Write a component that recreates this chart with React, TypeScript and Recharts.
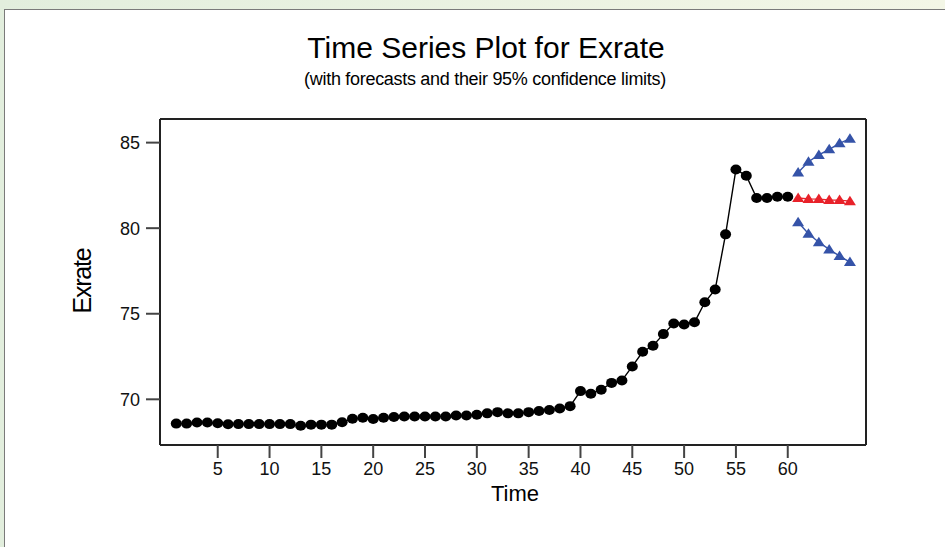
import { Line, LineChart, ReferenceLine, XAxis, YAxis } from "recharts";

// observed series, t = 1..60
const timeObs = [
  1, 2, 3, 4, 5, 6, 7, 8, 9, 10, 11, 12, 13, 14, 15, 16, 17, 18, 19, 20,
  21, 22, 23, 24, 25, 26, 27, 28, 29, 30, 31, 32, 33, 34, 35, 36, 37, 38, 39, 40,
  41, 42, 43, 44, 45, 46, 47, 48, 49, 50, 51, 52, 53, 54, 55, 56, 57, 58, 59, 60,
];
const exrate = [
  68.58, 68.58, 68.65, 68.65, 68.6, 68.54, 68.55, 68.55, 68.55, 68.55,
  68.55, 68.55, 68.45, 68.52, 68.52, 68.52, 68.66, 68.86, 68.92, 68.85,
  68.92, 68.97, 69.0, 69.0, 69.0, 69.0, 69.0, 69.05, 69.05, 69.1,
  69.18, 69.25, 69.18, 69.18, 69.25, 69.32, 69.38, 69.46, 69.6, 70.48,
  70.33, 70.56, 70.96, 71.1, 71.92, 72.78, 73.13, 73.81, 74.43, 74.37,
  74.5, 75.67, 76.42, 79.64, 83.43, 83.06, 81.76, 81.76, 81.84, 81.84,
];

// forecasts, t = 61..66
const timeFc = [61, 62, 63, 64, 65, 66];
const forecast = [81.76, 81.71, 81.7, 81.65, 81.64, 81.58];
const upper = [83.25, 83.88, 84.28, 84.61, 84.96, 85.23];
const lower = [80.35, 79.67, 79.18, 78.76, 78.37, 78.02];

const xTicks = [5, 10, 15, 20, 25, 30, 35, 40, 45, 50, 55, 60];
const yTicks = [70, 75, 80, 85];

const X_MIN = -0.57;
const X_MAX = 67.55;
const Y_MIN = 67.33;
const Y_MAX = 86.38;

type Row = {
  t: number;
  exrate?: number;
  forecast?: number;
  upper?: number;
  lower?: number;
};

const rows: Row[] = [
  ...timeObs.map((t, i) => ({ t, exrate: exrate[i] })),
  ...timeFc.map((t, i) => ({
    t,
    forecast: forecast[i],
    upper: upper[i],
    lower: lower[i],
  })),
];

const FONT = "'Liberation Sans', Arial, sans-serif";

const circleDot = (props: any) => {
  const { cx, cy, index } = props;
  if (cx == null || cy == null || props.value == null) return <g key={`c${index}`} />;
  return <ellipse key={`c${index}`} cx={cx} cy={cy} rx={5.5} ry={5} fill="#000" />;
};

const triangleDot = (color: string) => (props: any) => {
  const { cx, cy, index } = props;
  if (cx == null || cy == null || props.value == null) return <g key={`t${index}`} />;
  return (
    <polygon
      key={`t${index}`}
      points={`${cx},${cy - 5.5} ${cx + 6},${cy + 4} ${cx - 6},${cy + 4}`}
      fill={color}
    />
  );
};

const BLUE = "#3553a8";
const RED = "#e8222a";

export default function App() {
  return (
    <div
      style={{
        position: "absolute",
        left: 0,
        top: 0,
        width: 945,
        height: 547,
        overflow: "hidden",
        background: "linear-gradient(to right, #e2eedd, #f3f6e6)",
      }}
    >
      <div
        style={{
          position: "absolute",
          left: 4,
          top: 9,
          width: 960,
          height: 560,
          background: "#fff",
          border: "1.5px solid #7a7a7a",
        }}
      />
      <div style={{ position: "absolute", left: 0, top: 0 }}>
        <LineChart
          width={945}
          height={547}
          data={rows}
          margin={{ top: 119, right: 79, bottom: 0, left: 0 }}
        >
          <XAxis
            dataKey="t"
            type="number"
            domain={[X_MIN, X_MAX]}
            ticks={xTicks}
            allowDataOverflow
            height={102}
            tickSize={13}
            tickMargin={4}
            axisLine={{ stroke: "#222", strokeWidth: 2 }}
            tickLine={{ stroke: "#444", strokeWidth: 2 }}
            tick={{ fill: "#111", fontSize: 18, fontFamily: FONT }}
          />
          <YAxis
            type="number"
            domain={[Y_MIN, Y_MAX]}
            ticks={yTicks}
            allowDataOverflow
            width={160}
            tickSize={14}
            tickMargin={6}
            axisLine={{ stroke: "#222", strokeWidth: 2 }}
            tickLine={{ stroke: "#444", strokeWidth: 2 }}
            tick={{ fill: "#111", fontSize: 18, fontFamily: FONT }}
          />
          <ReferenceLine y={Y_MAX} stroke="#222" strokeWidth={2} ifOverflow="visible" />
          <ReferenceLine x={X_MAX} stroke="#222" strokeWidth={2} ifOverflow="visible" />
          <Line
            dataKey="exrate"
            type="linear"
            stroke="#000"
            strokeWidth={1.4}
            dot={circleDot}
            activeDot={false}
            isAnimationActive={false}
          />
          <Line
            dataKey="upper"
            type="linear"
            stroke={BLUE}
            strokeWidth={1.4}
            dot={triangleDot(BLUE)}
            activeDot={false}
            isAnimationActive={false}
          />
          <Line
            dataKey="lower"
            type="linear"
            stroke={BLUE}
            strokeWidth={1.4}
            dot={triangleDot(BLUE)}
            activeDot={false}
            isAnimationActive={false}
          />
          <Line
            dataKey="forecast"
            type="linear"
            stroke={RED}
            strokeWidth={1.4}
            dot={triangleDot(RED)}
            activeDot={false}
            isAnimationActive={false}
          />
        </LineChart>
      </div>
      <svg
        width={945}
        height={547}
        style={{ position: "absolute", left: 0, top: 0, pointerEvents: "none" }}
      >
        <text x={486} y={58} textAnchor="middle" fontSize={30} fontFamily={FONT} fill="#000">
          Time Series Plot for Exrate
        </text>
        <text
          x={485}
          y={85}
          textAnchor="middle"
          fontSize={18}
          letterSpacing={-0.3}
          fontFamily={FONT}
          fill="#000"
        >
          (with forecasts and their 95% confidence limits)
        </text>
        <text x={515} y={501} textAnchor="middle" fontSize={22} fontFamily={FONT} fill="#000">
          Time
        </text>
        <text
          transform="translate(91,281) rotate(-90)"
          textAnchor="middle"
          fontSize={25}
          letterSpacing={-1.2}
          fontFamily={FONT}
          fill="#000"
        >
          Exrate
        </text>
      </svg>
    </div>
  );
}
